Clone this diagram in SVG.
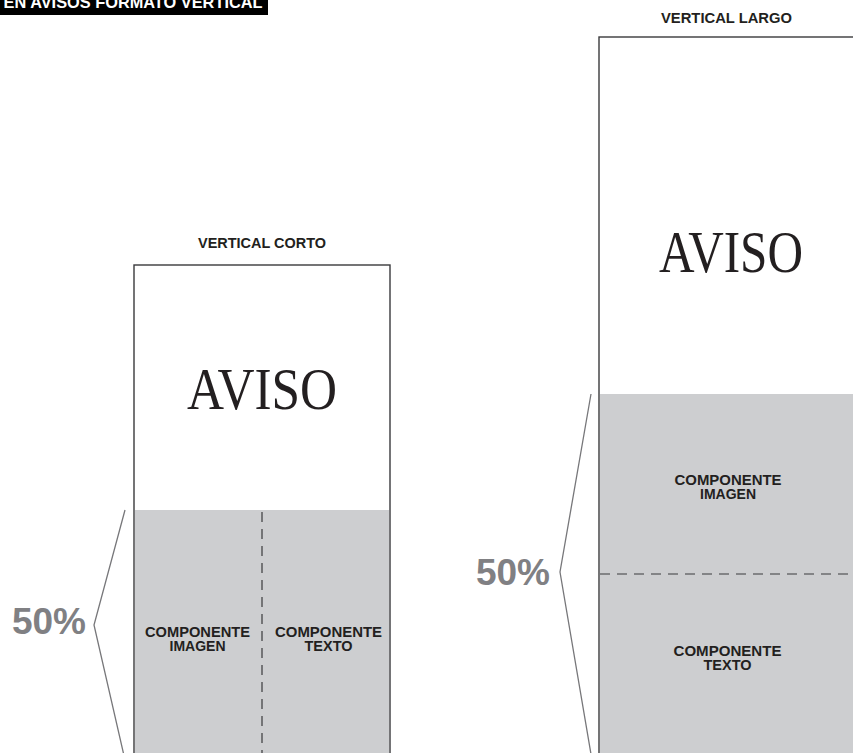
<svg xmlns="http://www.w3.org/2000/svg" width="853" height="753" viewBox="0 0 853 753">
<style>
.head{font-family:"Liberation Sans",Arial,sans-serif;font-weight:bold;font-size:15px;fill:#231f20;text-anchor:middle}
.aviso{font-family:"Liberation Serif","Times New Roman",serif;font-size:60px;fill:#231f20;text-anchor:middle}
.comp{font-family:"Liberation Sans",Arial,sans-serif;font-weight:bold;font-size:15px;fill:#231f20;text-anchor:middle}
.pct{font-family:"Liberation Sans",Arial,sans-serif;font-weight:bold;font-size:37px;fill:#808083;text-anchor:middle}
.box{fill:#fff;stroke:#3a3a3c;stroke-width:1.4}
.gray{fill:#cdced0}
.dash{stroke:#3a3a3c;stroke-width:1.2;stroke-dasharray:10 7;fill:none}
.br{stroke:#77777a;stroke-width:1.3;fill:none}
</style>
<rect width="853" height="753" fill="#fff"/>
<g id="banner">
<rect x="0" y="0" width="268" height="15" fill="#000"/>
<text x="133" y="8" font-family="Liberation Sans, Arial, sans-serif" font-weight="bold" font-size="17" fill="#fff" text-anchor="middle" textLength="259" lengthAdjust="spacingAndGlyphs">EN AVISOS FORMATO VERTICAL</text>
</g>
<g id="vertical-corto">
<text class="head" x="262" y="248" textLength="128" lengthAdjust="spacingAndGlyphs">VERTICAL CORTO</text>
<rect class="box" x="134" y="265" width="256" height="500"/>
<rect class="gray" x="135" y="510" width="254" height="255"/>
<text class="aviso" x="262" y="409" textLength="150" lengthAdjust="spacingAndGlyphs">AVISO</text>
<text class="comp" x="197.5" y="637" textLength="105" lengthAdjust="spacingAndGlyphs">COMPONENTE</text>
<text class="comp" x="197.5" y="651" textLength="56" lengthAdjust="spacingAndGlyphs">IMAGEN</text>
<text class="comp" x="328.5" y="637" textLength="107" lengthAdjust="spacingAndGlyphs">COMPONENTE</text>
<text class="comp" x="328.5" y="651" textLength="48" lengthAdjust="spacingAndGlyphs">TEXTO</text>
<text class="pct" x="49" y="634">50%</text>
</g>
<g id="vertical-largo">
<text class="head" x="726.5" y="23" textLength="131" lengthAdjust="spacingAndGlyphs">VERTICAL LARGO</text>
<rect class="box" x="599" y="37" width="300" height="730"/>
<rect class="gray" x="600" y="394" width="299" height="373"/>
<text class="aviso" x="731" y="272" textLength="144" lengthAdjust="spacingAndGlyphs">AVISO</text>
<text class="comp" x="728" y="485" textLength="107" lengthAdjust="spacingAndGlyphs">COMPONENTE</text>
<text class="comp" x="728" y="499" textLength="56" lengthAdjust="spacingAndGlyphs">IMAGEN</text>
<text class="comp" x="727.5" y="656" textLength="108" lengthAdjust="spacingAndGlyphs">COMPONENTE</text>
<text class="comp" x="727.5" y="670" textLength="48" lengthAdjust="spacingAndGlyphs">TEXTO</text>
<text class="pct" x="513" y="585">50%</text>
</g>
<g id="connectors">
<line class="dash" x1="262" y1="512" x2="262" y2="753"/>
<line class="dash" x1="600" y1="574" x2="853" y2="574"/>
<polyline class="br" points="125,510 94,625 125,760"/>
<polyline class="br" points="591,394 560,572 592,760"/>
</g>
</svg>
